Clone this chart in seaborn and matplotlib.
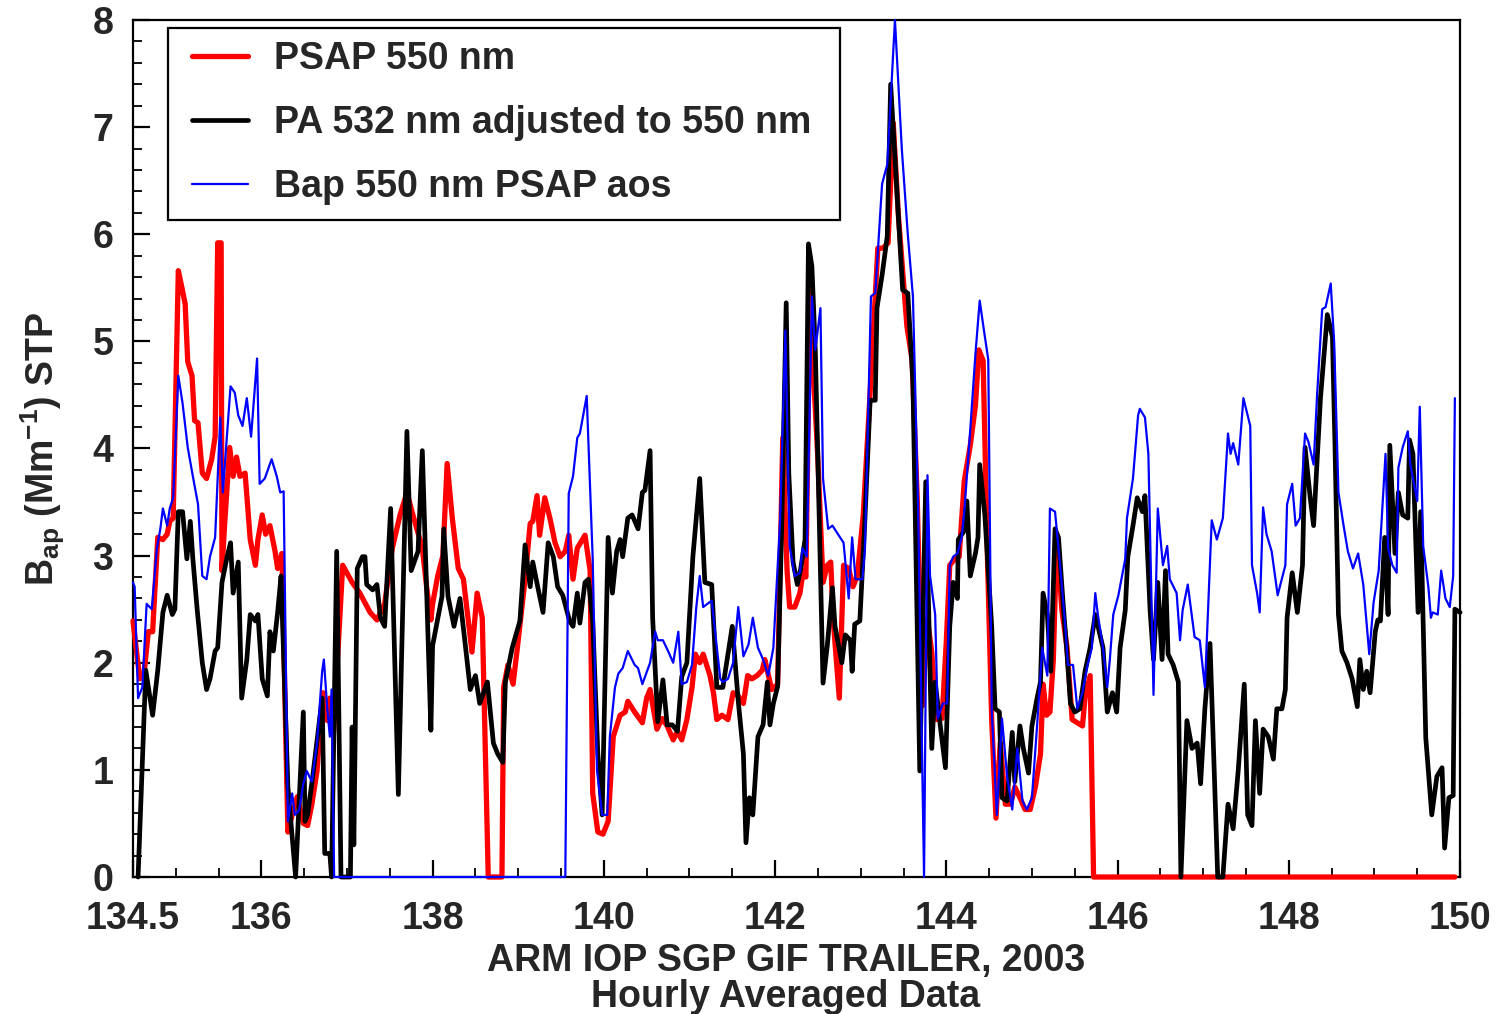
import matplotlib
matplotlib.use("Agg")
import matplotlib.pyplot as plt
import seaborn as sns
import pandas as pd
from matplotlib.ticker import FixedLocator, MultipleLocator
from matplotlib.patches import Rectangle

# ---- data: (day of year 2003, Bap in Mm^-1) ----
psap_550 = [
    (134.50, 2.39), (134.58, 1.85), (134.63, 1.90), (134.68, 2.29), (134.73, 2.29), (134.79, 3.17),
    (134.85, 3.15), (134.90, 3.20), (134.93, 3.32), (134.97, 3.35), (135.03, 5.66), (135.07, 5.51),
    (135.11, 5.35), (135.14, 4.81), (135.19, 4.68), (135.22, 4.26), (135.26, 4.24), (135.31, 3.77),
    (135.36, 3.72), (135.42, 3.90), (135.46, 4.11), (135.49, 5.92), (135.53, 5.92), (135.54, 2.86),
    (135.57, 3.28), (135.63, 4.01), (135.67, 3.74), (135.71, 3.92), (135.75, 3.74), (135.81, 3.77),
    (135.87, 3.15), (135.93, 2.91), (135.96, 3.15), (136.01, 3.38), (136.05, 3.20), (136.10, 3.28),
    (136.16, 3.04), (136.19, 2.88), (136.24, 3.02), (136.28, 1.50), (136.31, 0.42), (136.36, 0.58),
    (136.42, 0.75), (136.49, 0.50), (136.54, 0.48), (136.59, 0.68), (136.65, 0.99), (136.68, 1.35),
    (136.72, 1.72), (136.77, 1.46), (136.80, 1.67), (136.84, 1.31), (136.95, 2.91), (137.06, 2.75),
    (137.15, 2.65), (137.27, 2.47), (137.35, 2.40), (137.44, 2.55), (137.53, 3.07), (137.62, 3.38),
    (137.70, 3.59), (137.77, 3.38), (137.88, 3.07), (137.93, 2.71), (137.98, 2.40), (138.00, 2.55),
    (138.06, 2.81), (138.12, 3.00), (138.17, 3.86), (138.23, 3.35), (138.30, 2.88), (138.36, 2.78),
    (138.46, 2.10), (138.52, 2.65), (138.58, 2.42), (138.65, 0.00), (138.81, 0.00), (138.83, 1.77),
    (138.88, 1.98), (138.94, 1.80), (138.99, 2.14), (139.08, 2.78), (139.14, 3.30), (139.17, 3.32),
    (139.22, 3.56), (139.25, 3.19), (139.31, 3.54), (139.37, 3.35), (139.43, 3.12), (139.49, 2.99),
    (139.55, 3.04), (139.59, 3.19), (139.64, 2.78), (139.69, 3.07), (139.78, 3.19), (139.84, 2.86),
    (139.87, 0.78), (139.93, 0.42), (139.99, 0.40), (140.05, 0.52), (140.11, 1.31), (140.13, 1.36),
    (140.19, 1.51), (140.25, 1.54), (140.28, 1.64), (140.36, 1.54), (140.45, 1.44), (140.50, 1.67),
    (140.54, 1.75), (140.62, 1.38), (140.68, 1.48), (140.74, 1.41), (140.81, 1.28), (140.86, 1.36),
    (140.91, 1.28), (140.97, 1.47), (141.03, 1.77), (141.07, 2.08), (141.12, 2.00), (141.16, 2.08),
    (141.24, 1.88), (141.28, 1.72), (141.32, 1.47), (141.38, 1.51), (141.45, 1.47), (141.51, 1.72),
    (141.57, 1.69), (141.63, 1.62), (141.68, 1.88), (141.73, 1.85), (141.79, 1.88), (141.85, 1.93),
    (141.88, 2.03), (141.96, 1.75), (142.03, 1.80), (142.09, 4.10), (142.14, 2.86), (142.17, 2.52),
    (142.23, 2.52), (142.29, 2.65), (142.33, 2.86), (142.36, 2.80), (142.41, 5.55), (142.44, 4.83),
    (142.50, 3.90), (142.56, 2.75), (142.61, 2.91), (142.65, 2.94), (142.68, 2.39), (142.75, 1.67),
    (142.80, 2.91), (142.86, 2.88), (142.91, 2.71), (142.96, 2.81), (143.03, 3.38), (143.11, 4.52),
    (143.20, 5.87), (143.26, 5.87), (143.32, 5.92), (143.38, 7.04), (143.44, 6.18), (143.54, 5.14),
    (143.60, 4.83), (143.66, 3.54), (143.72, 1.60), (143.78, 2.40), (143.83, 2.10), (143.89, 1.47),
    (143.95, 1.48), (144.00, 2.20), (144.04, 2.91), (144.10, 2.97), (144.15, 2.99), (144.21, 3.70),
    (144.28, 4.03), (144.34, 4.40), (144.38, 4.92), (144.43, 4.82), (144.48, 3.00), (144.53, 1.47),
    (144.58, 0.55), (144.63, 1.25), (144.69, 0.68), (144.75, 0.68), (144.80, 0.84), (144.86, 0.74),
    (144.92, 0.63), (144.98, 0.63), (145.04, 0.84), (145.10, 1.15), (145.13, 1.80), (145.17, 1.51),
    (145.21, 1.54), (145.25, 2.03), (145.29, 3.17), (145.35, 2.49), (145.41, 2.14), (145.47, 1.47),
    (145.53, 1.44), (145.59, 1.41), (145.62, 1.67), (145.68, 1.88), (145.72, 0.00), (149.94, 0.00),
]

pa_532_adj = [
    (134.56, 0.00), (134.65, 1.93), (134.70, 1.67), (134.73, 1.51), (134.79, 1.93), (134.85, 2.47),
    (134.90, 2.63), (134.96, 2.45), (134.99, 2.50), (135.03, 3.41), (135.08, 3.41), (135.13, 2.97),
    (135.17, 3.32), (135.20, 2.97), (135.25, 2.50), (135.31, 2.00), (135.36, 1.75), (135.40, 1.85),
    (135.46, 2.11), (135.49, 2.14), (135.54, 2.75), (135.60, 2.99), (135.64, 3.12), (135.67, 2.65),
    (135.73, 2.94), (135.77, 1.67), (135.83, 2.03), (135.87, 2.45), (135.93, 2.39), (135.96, 2.45),
    (136.01, 1.85), (136.07, 1.69), (136.10, 2.29), (136.14, 2.11), (136.19, 2.47), (136.23, 2.81),
    (136.31, 0.84), (136.40, 0.00), (136.49, 1.54), (136.51, 0.52), (136.54, 0.58), (136.60, 0.94),
    (136.71, 1.67), (136.74, 0.22), (136.80, 0.22), (136.82, 0.00), (136.88, 3.04), (136.93, 0.00),
    (137.04, 0.00), (137.06, 1.40), (137.08, 0.30), (137.12, 2.88), (137.18, 2.99), (137.21, 2.99),
    (137.23, 2.73), (137.30, 2.68),
    (137.35, 2.73), (137.39, 2.42), (137.44, 2.34), (137.51, 3.44), (137.60, 0.77), (137.70, 4.16),
    (137.75, 2.86), (137.83, 3.04), (137.88, 3.98), (137.98, 1.37), (138.00, 2.16), (138.11, 2.62),
    (138.13, 3.25), (138.18, 2.62), (138.25, 2.34), (138.32, 2.60), (138.38, 2.18), (138.44, 1.75),
    (138.50, 1.88), (138.55, 1.62), (138.64, 1.82), (138.71, 1.25), (138.76, 1.15), (138.82, 1.07),
    (138.85, 1.82), (138.93, 2.14), (139.02, 2.39), (139.08, 3.10), (139.14, 2.71), (139.17, 2.94),
    (139.23, 2.70), (139.29, 2.47), (139.35, 3.12), (139.41, 2.99), (139.46, 2.71), (139.52, 2.63),
    (139.60, 2.39), (139.64, 2.34), (139.69, 2.65), (139.72, 2.37), (139.78, 2.75), (139.82, 2.78),
    (139.87, 2.39), (139.93, 1.15), (139.98, 0.58), (140.05, 3.17), (140.10, 2.65), (140.15, 3.04),
    (140.19, 3.15), (140.22, 2.99), (140.28, 3.35), (140.33, 3.38), (140.40, 3.25), (140.45, 3.59),
    (140.48, 3.61), (140.54, 3.98), (140.57, 2.42), (140.63, 1.45), (140.69, 1.84), (140.74, 1.42),
    (140.80, 1.42), (140.86, 1.36), (140.91, 1.87), (140.97, 2.00), (141.04, 2.99), (141.12, 3.72),
    (141.18, 2.75), (141.26, 2.73), (141.32, 1.77), (141.39, 1.77), (141.50, 2.34), (141.57, 1.64),
    (141.63, 1.15), (141.66, 0.32), (141.70, 0.74), (141.74, 0.58), (141.80, 1.31), (141.86, 1.42),
    (141.91, 1.82), (141.94, 1.42), (141.98, 1.62), (142.03, 1.78), (142.08, 3.35), (142.13, 5.36),
    (142.16, 3.77), (142.21, 2.94), (142.26, 2.73), (142.30, 2.88), (142.35, 3.15), (142.39, 5.91),
    (142.43, 5.70), (142.47, 4.92), (142.50, 3.87), (142.56, 1.81), (142.61, 2.16), (142.67, 2.70),
    (142.70, 2.34), (142.78, 2.00), (142.82, 2.26), (142.88, 2.21), (142.90, 1.92), (142.93, 2.36),
    (142.99, 2.39), (143.05, 3.35), (143.11, 4.45), (143.17, 4.45), (143.19, 5.31), (143.25, 5.62),
    (143.31, 5.98), (143.35, 7.40), (143.42, 6.44), (143.49, 5.48), (143.55, 5.45), (143.61, 4.62),
    (143.69, 0.99), (143.76, 3.69), (143.83, 1.20), (143.87, 1.82), (143.93, 1.41), (143.99, 1.02),
    (144.04, 2.34), (144.08, 2.75), (144.13, 2.60), (144.14, 3.15), (144.20, 3.22), (144.24, 3.51),
    (144.28, 2.81), (144.34, 3.02), (144.37, 3.17), (144.39, 3.85), (144.45, 3.38), (144.53, 2.34),
    (144.57, 1.57), (144.62, 1.54), (144.65, 0.74), (144.71, 0.71), (144.77, 1.35), (144.80, 0.89),
    (144.86, 1.41), (144.90, 1.20), (144.96, 0.97), (145.00, 1.41), (145.06, 1.67), (145.10, 1.82),
    (145.13, 2.65), (145.18, 2.45), (145.22, 1.92), (145.27, 3.25), (145.31, 3.17), (145.36, 2.60),
    (145.41, 2.08), (145.45, 1.62), (145.50, 1.54), (145.56, 1.57), (145.62, 1.92), (145.68, 2.14),
    (145.74, 2.45), (145.83, 2.14), (145.88, 1.54), (145.94, 1.72), (145.99, 1.54), (146.03, 2.14),
    (146.09, 2.49), (146.12, 2.99), (146.18, 3.28), (146.23, 3.54), (146.29, 3.41), (146.32, 3.56),
    (146.38, 2.49), (146.42, 2.03), (146.47, 2.75), (146.52, 2.03), (146.56, 2.86), (146.59, 2.08),
    (146.65, 1.98), (146.71, 1.82), (146.74, 0.00), (146.81, 1.46), (146.87, 1.20), (146.93, 1.25),
    (146.97, 0.87), (147.02, 1.57), (147.08, 2.18), (147.17, 0.00), (147.23, 0.00), (147.29, 0.68),
    (147.35, 0.45), (147.41, 1.00), (147.48, 1.80), (147.52, 0.58), (147.57, 0.48), (147.61, 1.46),
    (147.66, 0.78), (147.70, 1.38), (147.76, 1.31), (147.82, 1.10), (147.86, 1.57), (147.92, 1.57),
    (147.96, 1.75), (147.98, 2.42), (148.04, 2.84), (148.10, 2.47), (148.16, 2.91), (148.19, 4.01),
    (148.25, 3.54), (148.29, 3.28), (148.37, 4.47), (148.45, 5.25), (148.51, 5.04), (148.54, 4.01),
    (148.58, 2.45), (148.62, 2.11), (148.68, 2.00), (148.74, 1.85), (148.80, 1.59), (148.83, 2.03),
    (148.87, 1.75), (148.91, 1.92), (148.95, 1.72), (149.01, 2.29), (149.04, 2.40), (149.07, 2.39),
    (149.12, 3.17), (149.16, 2.45), (149.18, 4.03), (149.24, 3.02), (149.28, 3.59), (149.33, 3.38),
    (149.39, 3.35), (149.41, 4.08), (149.45, 3.95), (149.51, 2.47), (149.54, 3.41), (149.60, 1.30),
    (149.67, 0.58), (149.73, 0.94), (149.79, 1.02), (149.82, 0.27), (149.87, 0.74), (149.92, 0.76),
    (149.94, 2.50), (150.00, 2.47),
]

bap_aos = [
    (134.50, 2.75), (134.52, 2.71), (134.56, 1.67), (134.61, 1.77), (134.66, 2.55), (134.72, 2.50),
    (134.78, 3.07), (134.82, 3.25), (134.85, 3.44), (134.90, 3.28), (134.93, 3.44), (134.97, 3.54),
    (135.03, 4.68), (135.08, 4.42), (135.14, 4.01), (135.20, 3.74), (135.26, 3.48), (135.31, 2.81),
    (135.36, 2.78), (135.40, 2.99), (135.46, 3.17), (135.52, 4.29), (135.55, 3.59), (135.64, 4.58),
    (135.69, 4.52), (135.73, 4.31), (135.78, 4.21), (135.83, 4.47), (135.88, 4.11), (135.95, 4.84),
    (135.98, 3.67), (136.04, 3.72), (136.12, 3.90), (136.18, 3.74), (136.22, 3.59), (136.26, 3.60),
    (136.31, 0.52), (136.36, 0.78), (136.39, 0.58), (136.44, 0.62), (136.49, 0.87), (136.53, 0.99),
    (136.59, 0.89), (136.65, 1.25), (136.71, 1.92), (136.73, 2.03), (136.77, 1.57), (136.80, 1.31),
    (136.82, 1.75), (136.85, 0.00), (139.55, 0.00), (139.59, 3.58), (139.64, 3.74), (139.69, 4.10),
    (139.72, 4.14), (139.80, 4.49), (139.87, 2.97), (139.92, 1.00), (139.98, 0.58), (140.04, 0.58),
    (140.07, 1.31), (140.13, 1.77), (140.17, 1.90), (140.22, 1.95), (140.28, 2.11), (140.36, 1.98),
    (140.40, 1.95), (140.45, 1.80), (140.54, 2.00), (140.60, 2.29), (140.63, 2.21), (140.69, 2.21),
    (140.75, 2.11), (140.81, 2.00), (140.87, 2.29), (140.91, 1.80), (140.97, 1.82), (141.03, 1.98),
    (141.08, 2.52), (141.12, 2.81), (141.16, 2.52), (141.26, 2.58), (141.32, 2.14), (141.36, 1.85),
    (141.39, 1.82), (141.45, 1.85), (141.51, 2.00), (141.57, 2.52), (141.63, 2.06), (141.69, 2.17),
    (141.74, 2.42), (141.80, 2.14), (141.86, 2.03), (141.92, 1.88), (141.98, 2.14), (142.06, 3.35),
    (142.12, 5.10), (142.17, 3.09), (142.23, 2.81), (142.29, 2.84), (142.32, 3.07), (142.37, 2.99),
    (142.43, 5.42), (142.47, 4.92), (142.53, 5.31), (142.56, 3.72), (142.62, 3.25), (142.67, 3.28),
    (142.80, 3.12), (142.86, 2.60), (142.90, 3.17), (142.94, 2.78), (143.02, 2.78), (143.05, 3.07),
    (143.12, 5.42), (143.17, 5.45), (143.25, 6.47), (143.31, 6.65), (143.40, 8.00), (143.48, 6.80),
    (143.55, 6.00), (143.61, 5.42), (143.67, 3.48), (143.74, 0.00), (143.78, 3.75), (143.81, 2.81),
    (143.87, 2.45), (143.90, 1.48), (143.96, 1.62), (144.01, 1.62), (144.04, 2.91), (144.08, 2.99),
    (144.13, 3.02), (144.18, 3.17), (144.21, 3.41), (144.28, 4.18), (144.34, 4.88), (144.39, 5.38),
    (144.44, 5.10), (144.49, 4.83), (144.53, 1.57), (144.59, 0.58), (144.65, 1.48), (144.71, 0.94),
    (144.77, 0.63), (144.83, 1.20), (144.89, 0.71), (144.94, 0.63), (145.00, 0.74), (145.06, 1.41),
    (145.12, 2.14), (145.18, 1.88), (145.21, 3.44), (145.27, 3.41), (145.33, 2.90), (145.39, 2.34),
    (145.42, 1.98), (145.48, 1.98), (145.53, 1.57), (145.59, 1.72), (145.65, 1.98), (145.70, 2.14),
    (145.74, 2.65), (145.77, 2.45), (145.83, 2.14), (145.88, 1.77), (145.91, 2.03), (145.95, 2.45),
    (146.01, 2.63), (146.09, 2.97), (146.11, 3.35), (146.18, 3.72), (146.24, 4.31), (146.26, 4.37),
    (146.32, 4.29), (146.36, 3.95), (146.42, 1.70), (146.47, 3.44), (146.53, 2.91), (146.58, 3.09),
    (146.61, 2.78), (146.69, 2.65), (146.73, 2.21), (146.76, 2.49), (146.82, 2.73), (146.90, 2.24),
    (146.96, 2.21), (147.02, 1.77), (147.10, 3.33), (147.16, 3.15), (147.23, 3.35), (147.29, 4.14),
    (147.32, 3.95), (147.35, 4.05), (147.41, 3.85), (147.47, 4.47), (147.55, 4.21), (147.57, 2.91),
    (147.63, 2.65), (147.66, 2.47), (147.70, 3.45), (147.74, 3.20), (147.80, 3.04), (147.87, 2.63),
    (147.96, 2.91), (147.98, 3.48), (148.04, 3.67), (148.08, 3.28), (148.13, 3.35), (148.19, 4.14),
    (148.23, 4.06), (148.29, 3.85), (148.33, 4.49), (148.39, 5.30), (148.43, 5.32), (148.49, 5.54),
    (148.53, 4.99), (148.58, 3.59), (148.64, 3.28), (148.69, 3.04), (148.75, 2.88), (148.81, 3.02),
    (148.87, 2.73), (148.94, 2.08), (148.99, 2.56), (149.05, 2.86), (149.13, 3.95), (149.16, 3.07),
    (149.21, 2.91), (149.26, 2.84), (149.28, 3.82), (149.33, 4.01), (149.39, 4.16), (149.42, 3.85),
    (149.50, 3.51), (149.53, 4.39), (149.57, 3.09), (149.63, 2.71), (149.66, 2.42), (149.68, 2.47),
    (149.74, 2.45), (149.78, 2.86), (149.83, 2.60), (149.88, 2.52), (149.92, 2.81), (149.94, 4.47),
]

series_labels = ["PSAP 550 nm", "PA 532 nm adjusted to 550 nm", "Bap 550 nm PSAP aos"]
x_ticks = [134.5, 136, 138, 140, 142, 144, 146, 148, 150]
x_tick_labels = ["134.5", "136", "138", "140", "142", "144", "146", "148", "150"]
y_ticks = [0, 1, 2, 3, 4, 5, 6, 7, 8]
x_label = "ARM IOP SGP GIF TRAILER, 2003\nHourly Averaged Data"
y_label = r"B$_{\mathbf{ap}}$ (Mm$^{\mathbf{-1}}$) STP"

# ---- style ----
sns.set_theme(style="white")
plt.rcParams["font.family"] = ["Liberation Sans", "DejaVu Sans"]
plt.rcParams["font.weight"] = "bold"
plt.rcParams["mathtext.fontset"] = "custom"
plt.rcParams["mathtext.rm"] = "Liberation Sans:bold"
plt.rcParams["mathtext.bf"] = "Liberation Sans:bold"
plt.rcParams["mathtext.it"] = "Liberation Sans:bold"
plt.rcParams["mathtext.default"] = "bf"

FS = 27
fig = plt.figure(figsize=(14.97, 10.14), dpi=100)
ax = fig.add_axes([0.0888, 0.1351, 0.8865, 0.8452])

frames = []
for name, data in zip(series_labels, [psap_550, pa_532_adj, bap_aos]):
    df = pd.DataFrame(data, columns=["day", "bap"])
    df["series"] = name
    frames.append(df)

styles = {
    series_labels[0]: dict(color="#ff0000", lw=3.8),
    series_labels[1]: dict(color="#000000", lw=3.4),
    series_labels[2]: dict(color="#0000ff", lw=1.6),
}
for df in frames:
    name = df["series"].iloc[0]
    st = styles[name]
    sns.lineplot(data=df, x="day", y="bap", ax=ax, sort=False, estimator=None,
                 color=st["color"], linewidth=st["lw"], label=name,
                 clip_on=False, zorder=3)

ax.set_xlim(134.5, 150)
ax.set_ylim(0, 8)
ax.xaxis.set_major_locator(FixedLocator(x_ticks))
ax.set_xticklabels(x_tick_labels)
ax.xaxis.set_minor_locator(MultipleLocator(0.5))
ax.yaxis.set_major_locator(FixedLocator(y_ticks))
ax.yaxis.set_minor_locator(MultipleLocator(0.2))

ax.tick_params(axis="both", which="both", direction="in", top=False, right=False,
               bottom=True, left=True, color="black")
ax.tick_params(axis="both", which="major", length=12, width=1.6, labelsize=FS)
ax.tick_params(axis="both", which="minor", length=6.5, width=1.3)
ax.tick_params(axis="x", which="major", pad=17)
ax.tick_params(axis="y", which="major", pad=14)
for lab in ax.get_xticklabels() + ax.get_yticklabels():
    lab.set_fontweight("bold")

for sp in ax.spines.values():
    sp.set_visible(True)
    sp.set_color("black")
    sp.set_linewidth(1.6)

ax.set_xlabel(x_label, fontsize=FS, fontweight="bold", linespacing=1.0)
ax.xaxis.set_label_coords(0.492, -0.077)
ax.set_ylabel(y_label, fontsize=FS, fontweight="bold")
ax.yaxis.set_label_coords(-0.050, 0.5)

# legend: frame drawn as a box, entries placed inside it
ax.add_patch(Rectangle((0.0264, 0.7666), 0.5064, 0.2240, transform=ax.transAxes,
                       facecolor="white", edgecolor="black", linewidth=1.6, zorder=4,
                       clip_on=False))
leg = ax.legend(loc="upper left", bbox_to_anchor=(0.0445, 0.9750), borderaxespad=0,
                fontsize=FS, frameon=False, handlelength=1.5, handletextpad=0.7,
                labelspacing=0.74, borderpad=0)
leg.set_zorder(5)
for t in leg.get_texts():
    t.set_fontweight("bold")

ax.grid(False)
fig.savefig("out.png", dpi=100)
